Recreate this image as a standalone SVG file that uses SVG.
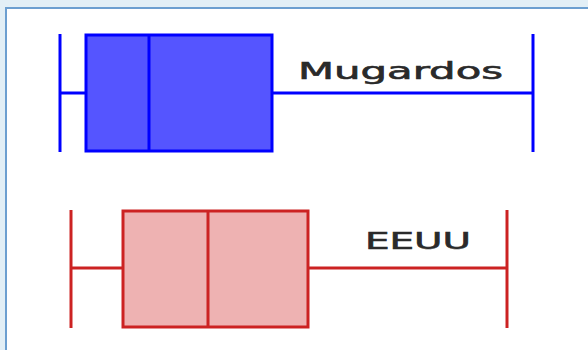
<svg xmlns="http://www.w3.org/2000/svg" width="588" height="350" viewBox="0 0 588 350">
<style>
.lbl{font-family:"DejaVu Sans",sans-serif;font-size:23px;fill:#2a2a2a;stroke:#2a2a2a;stroke-width:0.6}
.b{stroke:#0000ff;stroke-width:3;fill:none}
.bb{stroke:#0000ff;stroke-width:3;fill:#5555ff}
.r{stroke:#cc2222;stroke-width:3;fill:none}
.rb{stroke:#cc2222;stroke-width:3;fill:#eeb2b2}
</style>
<rect x="0" y="0" width="588" height="350" fill="#e2eff6"/>
<rect x="6" y="8" width="590" height="350" fill="#ffffff" stroke="#6c9fd0" stroke-width="2"/>
<g id="mugardos">
<line class="b" x1="60" y1="34" x2="60" y2="152"/>
<line class="b" x1="60" y1="93" x2="85" y2="93" stroke-width="2"/>
<line class="b" x1="272" y1="93" x2="533" y2="93" stroke-width="2"/>
<line class="b" x1="533" y1="34" x2="533" y2="152"/>
<rect class="bb" x="86" y="35" width="186" height="116"/>
<line class="b" x1="149" y1="35" x2="149" y2="151"/>
<text class="lbl" x="298" y="79" textLength="205" lengthAdjust="spacingAndGlyphs">Mugardos</text>
</g>
<g id="eeuu">
<line class="r" x1="71" y1="210" x2="71" y2="328"/>
<line class="r" x1="71" y1="268" x2="122" y2="268" stroke-width="2"/>
<line class="r" x1="308" y1="268" x2="507" y2="268" stroke-width="2"/>
<line class="r" x1="507" y1="210" x2="507" y2="328"/>
<rect class="rb" x="123" y="211" width="185" height="116"/>
<line class="r" x1="208" y1="211" x2="208" y2="327"/>
<text class="lbl" x="365" y="249" textLength="106" lengthAdjust="spacingAndGlyphs">EEUU</text>
</g>
</svg>
